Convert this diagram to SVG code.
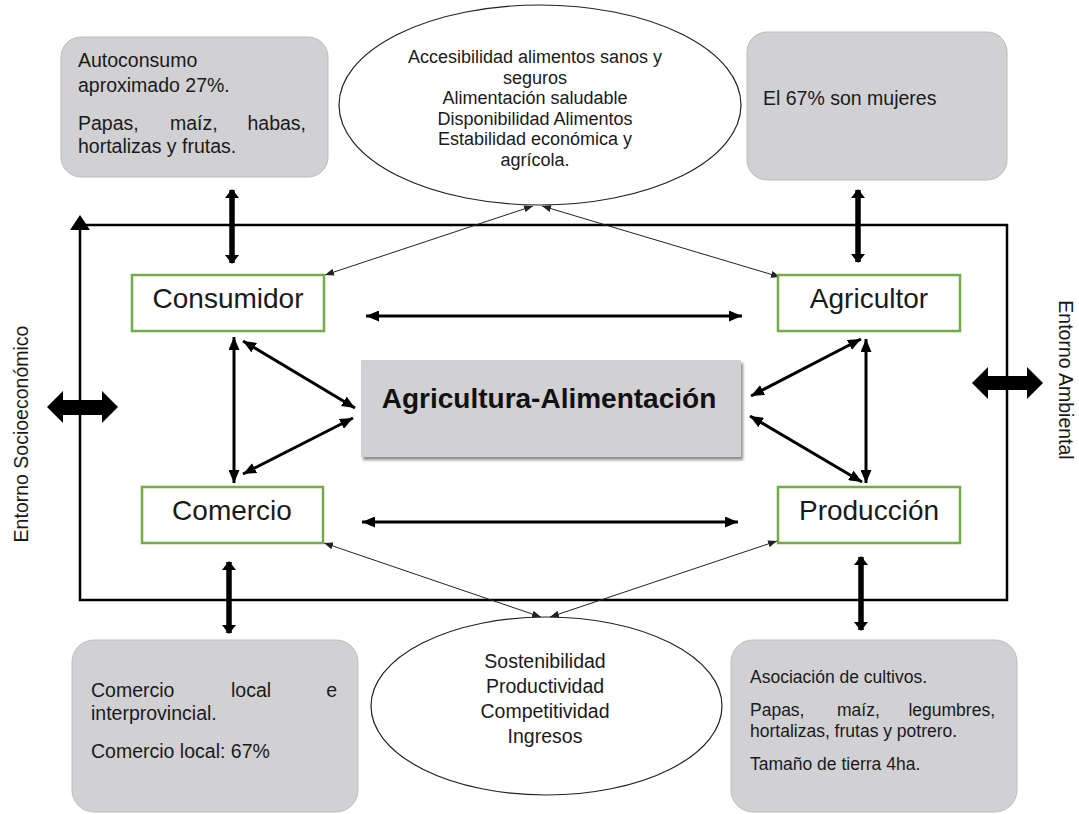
<svg xmlns="http://www.w3.org/2000/svg" width="1079" height="814" viewBox="0 0 1079 814">
<style>
text{font-family:"Liberation Sans",Arial,sans-serif;fill:#1a1a1a}
.gbox{fill:#d1d0d2;stroke:#bdbdbd;stroke-width:1}
.green{fill:#fff;stroke:#70ad47;stroke-width:2.5}
.lbl{font-size:28px;text-anchor:middle}
.info{font-size:19.5px}
.info2{font-size:17.5px}
.end{text-anchor:end}
.ell{fill:#fff;stroke:#222;stroke-width:1.2}
.etxt{font-size:18px;text-anchor:middle}
.etxt2{font-size:19.5px;text-anchor:middle}
.thin{stroke:#222;stroke-width:1;fill:none;marker-start:url(#ahThin);marker-end:url(#ahThin)}
.med{stroke:#000;stroke-width:3;fill:none;marker-start:url(#ahMed);marker-end:url(#ahMed)}
.thick{stroke:#000;stroke-width:5.5;fill:none;marker-start:url(#ahThick);marker-end:url(#ahThick)}
.side{font-size:19.5px}
</style>
<defs>
<marker id="ahThin" markerUnits="userSpaceOnUse" markerWidth="9" markerHeight="7" refX="9" refY="3.5" orient="auto-start-reverse"><path d="M0,0 L9,3.5 L0,7 z" fill="#222"/></marker>
<marker id="ahMed" markerUnits="userSpaceOnUse" markerWidth="13" markerHeight="11" refX="13" refY="5.5" orient="auto-start-reverse"><path d="M0,0 L13,5.5 L0,11 z" fill="#000"/></marker>
<marker id="ahThick" markerUnits="userSpaceOnUse" markerWidth="9" markerHeight="14" refX="8" refY="7" orient="auto-start-reverse"><path d="M0,0 L9,7 L0,14 z" fill="#000"/></marker>
<filter id="shadow" x="-5%" y="-10%" width="115%" height="130%"><feDropShadow dx="2" dy="3" stdDeviation="1.8" flood-color="#000" flood-opacity="0.45"/></filter>
</defs>

<g id="frame">
<rect x="80" y="225" width="927" height="375" fill="none" stroke="#000" stroke-width="2.5"/>
<line x1="80" y1="225" x2="80" y2="229" stroke="#000" stroke-width="2.5"/>
<polygon points="70,230 80,215 90,230" fill="#000"/>
</g>

<g id="connectors">
<line class="thick" x1="232" y1="190" x2="232" y2="263"/>
<line class="thick" x1="858" y1="190" x2="858" y2="262"/>
<line class="thick" x1="229" y1="562" x2="229" y2="633"/>
<line class="thick" x1="861" y1="557" x2="861" y2="630"/>
<line class="med" x1="366" y1="316" x2="742" y2="316"/>
<line class="med" x1="362" y1="522" x2="738" y2="522"/>
<line class="med" x1="234" y1="337" x2="234" y2="483"/>
<line class="med" x1="243" y1="341" x2="355" y2="408"/>
<line class="med" x1="353" y1="418" x2="243" y2="474"/>
<line class="med" x1="866" y1="339" x2="866" y2="483"/>
<line class="med" x1="861" y1="339" x2="751" y2="396"/>
<line class="med" x1="750" y1="416" x2="862" y2="482"/>
<line class="thin" x1="325" y1="275" x2="533" y2="206"/>
<line class="thin" x1="780" y1="277" x2="542" y2="206"/>
<line class="thin" x1="324" y1="543" x2="541" y2="617"/>
<line class="thin" x1="777" y1="541" x2="550" y2="617"/>
<polygon points="47,407 63,391 63,400 102,400 102,391 118,407 102,423 102,415 63,415 63,423" fill="#000"/>
<polygon points="972,383 988,367 988,376 1027,376 1027,367 1043,383 1027,399 1027,390 988,390 988,399" fill="#000"/>
</g>

<g id="autoconsumo">
<rect class="gbox" x="61" y="37" width="267" height="140" rx="20"/>
<text class="info" x="78" y="67">Autoconsumo</text>
<text class="info" x="78" y="92">aproximado 27%.</text>
<text class="info" x="78" y="130">Papas,</text>
<text class="info" x="170" y="130">maíz,</text>
<text class="info end" x="306" y="130">habas,</text>
<text class="info" x="78" y="153">hortalizas y frutas.</text>
</g>

<g id="ellipse-top">
<ellipse class="ell" cx="540" cy="105" rx="201" ry="100"/>
<text class="etxt" x="535" y="63">Accesibilidad alimentos sanos y</text>
<text class="etxt" x="535" y="83.5">seguros</text>
<text class="etxt" x="535" y="104">Alimentación saludable</text>
<text class="etxt" x="535" y="124.5">Disponibilidad Alimentos</text>
<text class="etxt" x="535" y="145">Estabilidad económica y</text>
<text class="etxt" x="535" y="165.5">agrícola.</text>
</g>

<g id="mujeres">
<rect class="gbox" x="747" y="32" width="260" height="148" rx="20"/>
<text class="info" x="763" y="105">El 67% son mujeres</text>
</g>

<g id="consumidor">
<rect class="green" x="132" y="275" width="192" height="56"/>
<text class="lbl" x="228" y="308">Consumidor</text>
</g>

<g id="agricultor">
<rect class="green" x="778" y="275" width="182" height="56"/>
<text class="lbl" x="869" y="308">Agricultor</text>
</g>

<g id="comercio">
<rect class="green" x="142" y="487" width="181" height="56"/>
<text class="lbl" x="232" y="520">Comercio</text>
</g>

<g id="produccion">
<rect class="green" x="778" y="487" width="182" height="56"/>
<text class="lbl" x="869" y="520">Producción</text>
</g>

<g id="centro">
<rect x="361" y="360" width="380" height="97" fill="#d1d0d2" filter="url(#shadow)"/>
<text x="549" y="408" font-size="28" font-weight="bold" text-anchor="middle" style="fill:#111">Agricultura-Alimentación</text>
</g>

<g id="ellipse-bottom">
<ellipse class="ell" cx="546.5" cy="706" rx="175.5" ry="89"/>
<text class="etxt2" x="545" y="668">Sostenibilidad</text>
<text class="etxt2" x="545" y="693">Productividad</text>
<text class="etxt2" x="545" y="718">Competitividad</text>
<text class="etxt2" x="545" y="743">Ingresos</text>
</g>

<g id="comercio-info">
<rect class="gbox" x="72" y="640" width="286" height="172" rx="22"/>
<text class="info" x="91" y="697">Comercio</text>
<text class="info" x="231" y="697">local</text>
<text class="info end" x="337" y="697">e</text>
<text class="info" x="91" y="720">interprovincial.</text>
<text class="info" x="91" y="758">Comercio local: 67%</text>
</g>

<g id="produccion-info">
<rect class="gbox" x="731" y="640" width="286" height="172" rx="22"/>
<text class="info2" x="750" y="683">Asociación de cultivos.</text>
<text class="info2" x="750" y="716">Papas,</text>
<text class="info2" x="837" y="716">maíz,</text>
<text class="info2 end" x="995" y="716">legumbres,</text>
<text class="info2" x="750" y="737">hortalizas, frutas y potrero.</text>
<text class="info2" x="750" y="770">Tamaño de tierra 4ha.</text>
</g>

<g id="entorno-socio">
<text class="side" transform="translate(28,434) rotate(-90)" text-anchor="middle">Entorno Socioeconómico</text>
</g>
<g id="entorno-ambiental">
<text class="side" transform="translate(1059,380) rotate(90)" text-anchor="middle">Entorno Ambiental</text>
</g>
</svg>
